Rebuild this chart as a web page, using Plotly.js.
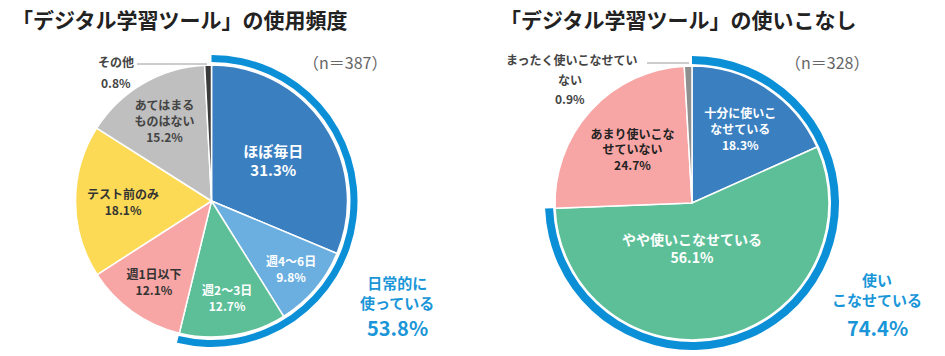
<!DOCTYPE html>
<html>
<head>
<meta charset="utf-8">
<script src="https://cdn.plot.ly/plotly-3.0.1.min.js"></script>
<style>html,body{margin:0;padding:0;background:#fff}#chart{width:945px;height:356px}</style>
</head>
<body>
<div id="chart"></div>
<script>
// ---- data ----
const titleLeft = "「デジタル学習ツール」の使用頻度";
const titleRight = "「デジタル学習ツール」の使いこなし";
const nLeft = "（n＝387）";
const nRight = "（n＝328）";

const freqLabels = ["ほぼ毎日", "週4〜6日", "週2〜3日", "週1日以下", "テスト前のみ", "あてはまる<br>ものはない", "その他"];
const freqValues = [31.3, 9.8, 12.7, 12.1, 18.1, 15.2, 0.8];
const freqGroupCount = 3;               // first 3 slices = 日常的に使っている
const freqGroupLabel = "日常的に<br>使っている";

const skillLabels = ["十分に使いこ<br>なせている", "やや使いこなせている", "あまり使いこな<br>せていない", "まったく使いこなせてい<br>ない"];
const skillValues = [18.3, 56.1, 24.7, 0.9];
const skillGroupCount = 2;              // first 2 slices = 使いこなせている
const skillGroupLabel = "使い<br>こなせている";

// ---- styles ----
const FONT = '"Noto Sans CJK JP", "Noto Sans", sans-serif';
const W = 945, H = 356;
const ringColor = '#0b8fd6';
const freqColors = ['#3a80c1', '#6aafe0', '#5dbf98', '#f7a6a5', '#fdda55', '#bfbfbf', '#3b3b3b'];
const freqTextColors = ['#ffffff', '#ffffff', '#ffffff', '#333333', '#333333', '#444444', '#333333'];
const freqTextSizes = [15, 12, 12, 12, 12, 12, 12];
const skillColors = ['#3a80c1', '#5dbf98', '#f7a6a5', '#8f8f8f'];
const skillTextColors = ['#ffffff', '#ffffff', '#222222', '#333333'];
const skillTextSizes = [12, 14, 12, 12];

function sumFirst(arr, n) { return Math.round(arr.slice(0, n).reduce((a, b) => a + b, 0) * 10) / 10; }
const freqGroupValue = sumFirst(freqValues, freqGroupCount);
const skillGroupValue = sumFirst(skillValues, skillGroupCount);

// domain helper: center (px) and radius (px) -> paper domain
function dom(cx, cy, r) {
  return { x: [(cx - r) / W, (cx + r) / W], y: [(H - cy - r) / H, (H - cy + r) / H] };
}
function px(x) { return x / W; }
function py(y) { return (H - y) / H; }

const L = { cx: 211.5, cy: 201, r: 136, ro: 146, ri: 139 };
const R = { cx: 692, cy: 203, r: 137, ro: 147, ri: 139 };

function positions(n, skipLast) {
  const p = [];
  for (let i = 0; i < n; i++) p.push(i === n - 1 && skipLast ? 'none' : 'inside');
  return p;
}

const traces = [
  {
    type: 'pie', values: [freqGroupValue, 100 - freqGroupValue], sort: false, direction: 'clockwise', rotation: 0,
    hole: L.ri / L.ro, domain: dom(L.cx, L.cy, L.ro), textinfo: 'none', hoverinfo: 'skip',
    marker: { colors: [ringColor, 'rgba(0,0,0,0)'], line: { width: 0 } }, showlegend: false
  },
  {
    type: 'pie', labels: freqLabels, values: freqValues, sort: false, direction: 'clockwise', rotation: 0,
    domain: dom(L.cx, L.cy, L.r), text: freqLabels,
    texttemplate: '<b>%{text}<br>%{value:.1f}%</b>', textposition: positions(freqValues.length, true),
    insidetextorientation: 'horizontal',
    insidetextfont: { family: FONT, color: freqTextColors, size: freqTextSizes },
    marker: { colors: freqColors, line: { color: '#ffffff', width: 1.5 } }, showlegend: false, hoverinfo: 'label+value'
  },
  {
    type: 'pie', values: [skillGroupValue, 100 - skillGroupValue], sort: false, direction: 'clockwise', rotation: 0,
    hole: R.ri / R.ro, domain: dom(R.cx, R.cy, R.ro), textinfo: 'none', hoverinfo: 'skip',
    marker: { colors: [ringColor, 'rgba(0,0,0,0)'], line: { width: 0 } }, showlegend: false
  },
  {
    type: 'pie', labels: skillLabels, values: skillValues, sort: false, direction: 'clockwise', rotation: 0,
    domain: dom(R.cx, R.cy, R.r), text: skillLabels,
    texttemplate: '<b>%{text}<br>%{value:.1f}%</b>', textposition: positions(skillValues.length, true),
    insidetextorientation: 'horizontal',
    insidetextfont: { family: FONT, color: skillTextColors, size: skillTextSizes },
    marker: { colors: skillColors, line: { color: '#ffffff', width: 1.5 } }, showlegend: false, hoverinfo: 'label+value'
  }
];

function ann(text, x, y, opts) {
  return Object.assign({ text: text, xref: 'paper', yref: 'paper', x: px(x), y: py(y), showarrow: false,
    xanchor: 'center', yanchor: 'middle', font: { family: FONT, size: 12, color: '#333' } }, opts || {});
}
const fLast = freqLabels.length - 1, sLast = skillLabels.length - 1;
const skillLastLines = skillLabels[sLast].split('<br>');

const annotations = [
  ann('<b>' + titleLeft + '</b>', 10, 19, { xanchor: 'left', font: { family: FONT, size: 21, color: '#222' } }),
  ann('<b>' + titleRight + '</b>', 498, 19, { xanchor: 'left', font: { family: FONT, size: 21, color: '#222' } }),
  ann(nLeft, 345, 62, { font: { family: FONT, size: 16, color: '#666' } }),
  ann(nRight, 827, 62, { font: { family: FONT, size: 16, color: '#666' } }),
  // outside small-slice labels
  ann('<b>' + freqLabels[fLast] + '</b>', 116, 61, { font: { family: FONT, size: 12, color: '#444' } }),
  ann('<b>' + freqValues[fLast].toFixed(1) + '%</b>', 116, 82, { font: { family: FONT, size: 12, color: '#444' } }),
  ann('<b>' + skillLastLines[0] + '</b>', 572, 59, { font: { family: FONT, size: 12, color: '#444' } }),
  ann('<b>' + skillLastLines[1] + '</b>', 570, 79, { font: { family: FONT, size: 12, color: '#444' } }),
  ann('<b>' + skillValues[sLast].toFixed(1) + '%</b>', 570, 99, { font: { family: FONT, size: 12, color: '#444' } }),
  // group summaries
  ann('<b>' + freqGroupLabel + '</b>', 397, 292, { font: { family: FONT, size: 15, color: '#1a96d8' } }),
  ann('<b>' + freqGroupValue.toFixed(1) + '%</b>', 397, 327, { font: { family: FONT, size: 20, color: '#1a96d8' } }),
  ann('<b>' + skillGroupLabel + '</b>', 877, 289, { font: { family: FONT, size: 15, color: '#1a96d8' } }),
  ann('<b>' + skillGroupValue.toFixed(1) + '%</b>', 877, 327, { font: { family: FONT, size: 20, color: '#1a96d8' } })
];

const shapes = [
  { type: 'line', xref: 'paper', yref: 'paper', x0: px(137), y0: py(64), x1: px(207), y1: py(64), line: { color: '#9a9a9a', width: 1 } },
  { type: 'line', xref: 'paper', yref: 'paper', x0: px(647), y0: py(63), x1: px(689), y1: py(63), line: { color: '#9a9a9a', width: 1 } }
];

const layout = {
  width: W, height: H, margin: { l: 0, r: 0, t: 0, b: 0 },
  paper_bgcolor: '#ffffff', plot_bgcolor: '#ffffff',
  font: { family: FONT },
  annotations: annotations, shapes: shapes, showlegend: false
};

Plotly.newPlot('chart', traces, layout, { displayModeBar: false, staticPlot: true });
</script>
</body>
</html>
